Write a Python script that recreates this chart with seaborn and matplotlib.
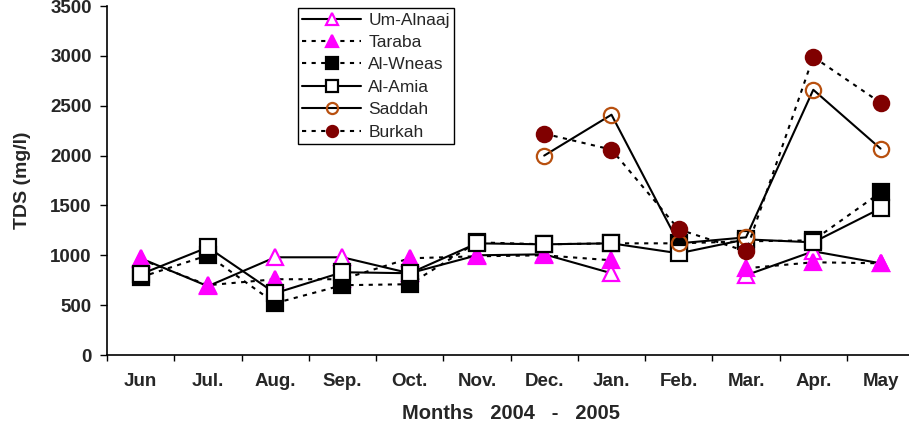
import numpy as np
import pandas as pd
import seaborn as sns
import matplotlib.pyplot as plt

sns.set_theme(style="ticks")
plt.rcParams['font.family'] = ['Liberation Sans', 'DejaVu Sans']

months = ["Jun", "Jul.", "Aug.", "Sep.", "Oct.", "Nov.", "Dec.", "Jan.", "Feb.", "Mar.", "Apr.", "May"]

# TDS (mg/l), None = no sample that month
um_alnaaj = [970, 690, 980, 980, 820, 1000, 1010, 820, None, 800, 1040, 920]
taraba = [960, 700, 760, 760, 970, 990, 1000, 950, None, 870, 930, 920]
al_wneas = [780, 1000, 520, 700, 710, 1130, 1110, 1120, 1120, 1140, 1150, 1630]
al_amia = [810, 1080, 620, 830, 820, 1120, 1110, 1120, 1020, 1160, 1130, 1470]
saddah = [None, None, None, None, None, None, 2000, 2410, 1120, 1180, 2660, 2070]
burkah = [None, None, None, None, None, None, 2220, 2060, 1260, 1040, 2990, 2530]

sites = {
    "Um-Alnaaj": um_alnaaj,
    "Taraba": taraba,
    "Al-Wneas": al_wneas,
    "Al-Amia": al_amia,
    "Saddah": saddah,
    "Burkah": burkah,
}

rows = []
for name, vals in sites.items():
    seg = 0
    for i, v in enumerate(vals):
        if v is None:
            seg += 1
            continue
        rows.append({"Site": name, "pos": i, "TDS": v, "seg": seg})
df = pd.DataFrame(rows)

MAG = "#FF00FF"
dash = (0, (2, 2.6))
styles = {
    "Um-Alnaaj": dict(ls="-", marker="^", ms=12, mfc="white", mec=MAG),
    "Taraba": dict(ls=dash, marker="^", ms=12, mfc=MAG, mec=MAG),
    "Al-Wneas": dict(ls=dash, marker="s", ms=11, mfc="black", mec="black"),
    "Al-Amia": dict(ls="-", marker="s", ms=11, mfc="white", mec="black"),
    "Saddah": dict(ls="-", marker="o", ms=11, mfc="none", mec="#B8500F"),
    "Burkah": dict(ls=dash, marker="o", ms=11, mfc="#800000", mec="#800000"),
}

fig = plt.figure(figsize=(9.09, 4.30), dpi=100)
ax = fig.add_axes([0.1177, 0.1744, 0.888, 0.8116])

for i, (name, st) in enumerate(styles.items()):
    sub = df[df["Site"] == name]
    sns.lineplot(
        data=sub, x="pos", y="TDS", units="seg", estimator=None,
        ax=ax, color="black", linestyle=st["ls"], linewidth=1.5,
        marker=st["marker"], markersize=st["ms"],
        mfc=st["mfc"], mec=st["mec"], mew=1.6,
        label=name, legend=False, zorder=3 + i,
    )

ax.set_xlim(-0.5, 11.5)
ax.set_ylim(0, 3500)
ax.set_xticks(range(len(months)))
ax.set_xticklabels(months)
ax.set_xticks(np.arange(-0.5, 12, 1), minor=True)
ax.set_yticks(range(0, 3501, 500))

ax.tick_params(axis="x", which="major", length=0, pad=13, labelsize=13.5)
ax.tick_params(axis="x", which="minor", length=4, width=1, direction="out", color="black")
ax.tick_params(axis="y", length=5, width=1, direction="out", color="black", pad=6, labelsize=13.5)
for lab in ax.get_xticklabels() + ax.get_yticklabels():
    lab.set_fontweight("bold")

for side in ["top", "right"]:
    ax.spines[side].set_visible(False)
for side in ["left", "bottom"]:
    ax.spines[side].set_color("black")
    ax.spines[side].set_linewidth(1.2)

ax.set_xlabel("Months   2004   -   2005", fontsize=14.5, fontweight="bold", labelpad=10)
ax.set_ylabel("TDS (mg/l)", fontsize=14, fontweight="bold", labelpad=14)

handles, labels = ax.get_legend_handles_labels()
uniq = dict(zip(labels, handles))
leg = ax.legend(
    uniq.values(), uniq.keys(),
    loc="upper left", bbox_to_anchor=(0.2367, 0.994), borderaxespad=0,
    fontsize=12.5, handlelength=3.4, handletextpad=0.4, labelspacing=0.42,
    borderpad=0.25, frameon=True, fancybox=False, framealpha=1,
)
leg.get_frame().set_edgecolor("black")
leg.get_frame().set_linewidth(1)
for h in leg.legend_handles:
    h.set_markersize(8)

fig.savefig("out.png", dpi=100)
